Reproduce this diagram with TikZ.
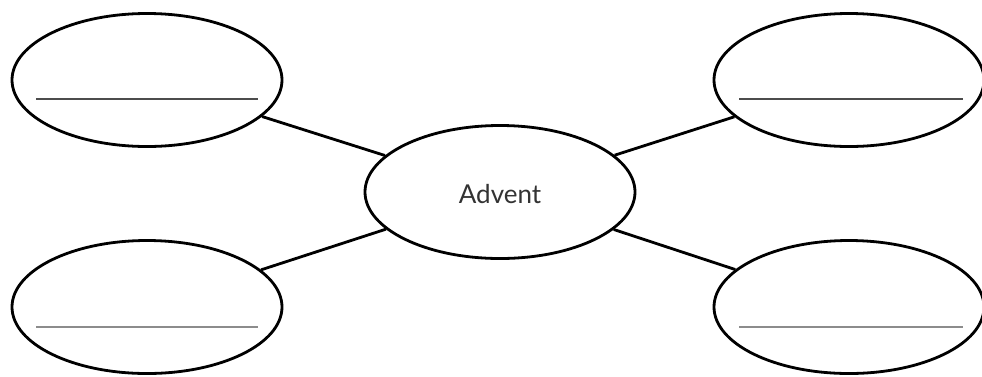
\documentclass[tikz,border=0pt]{standalone}
\usepackage{fontspec}
\setmainfont{Lato}
\usetikzlibrary{shapes.geometric}
\begin{document}
\begin{tikzpicture}[x=1pt,y=-1pt,
  bubble/.style={draw=black,ellipse,line width=2.8pt,minimum width=270pt,minimum height=133pt,inner sep=0pt,fill=white},
  link/.style={draw=black,line width=2.8pt},
  blankdark/.style={draw=black!70,line width=2pt},
  blanklight/.style={draw=black!45,line width=2pt}]
\useasboundingbox (0,0) rectangle (982,376);
\node[bubble] (c) at (500,192) {};
\node[font=\fontsize{26}{30}\selectfont,text=black!80] (lbl) at (500,194) {Advent};
\node[bubble] (tl) at (147,80) {};
\node[bubble] (tr) at (849,80) {};
\node[bubble] (bl) at (147,307) {};
\node[bubble] (br) at (849,307) {};
\draw[link] (tl) -- (c);
\draw[link] (tr) -- (c);
\draw[link] (bl) -- (c);
\draw[link] (br) -- (c);
\draw[blankdark] ([xshift=-111pt,yshift=-19pt]tl.center) -- ([xshift=111pt,yshift=-19pt]tl.center);
\draw[blankdark] ([xshift=-110pt,yshift=-19pt]tr.center) -- ([xshift=114pt,yshift=-19pt]tr.center);
\draw[blanklight] ([xshift=-111pt,yshift=-20pt]bl.center) -- ([xshift=111pt,yshift=-20pt]bl.center);
\draw[blanklight] ([xshift=-110pt,yshift=-20pt]br.center) -- ([xshift=114pt,yshift=-20pt]br.center);
\end{tikzpicture}
\end{document}
